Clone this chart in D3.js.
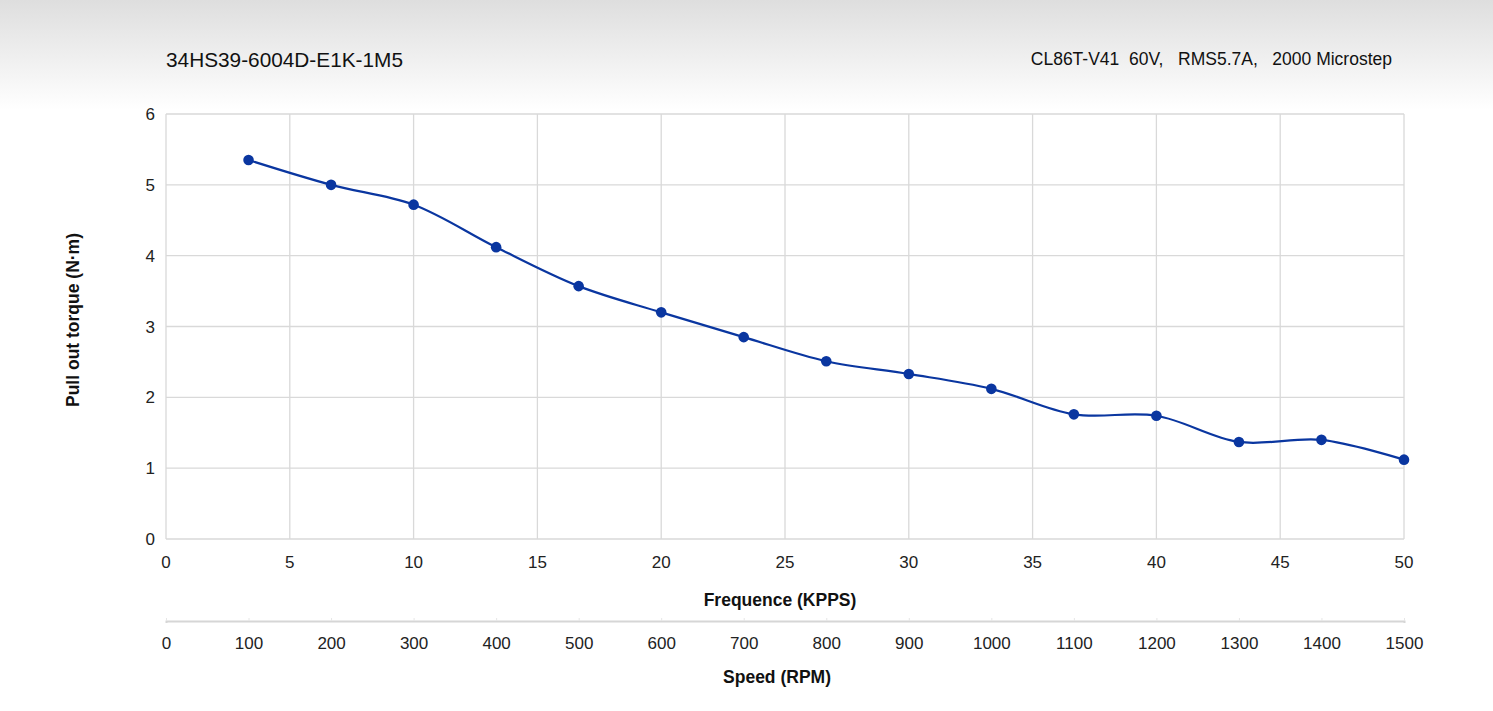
<!DOCTYPE html>
<html>
<head>
<meta charset="utf-8">
<script src="https://cdn.jsdelivr.net/npm/d3@7"></script>
<style>
  html, body { margin: 0; padding: 0; }
  body { width: 1493px; height: 711px; overflow: hidden; background: #fff; font-family: "Liberation Sans", Arial, sans-serif; }
  text { white-space: pre; }
</style>
</head>
<body>
<div id="chart"></div>
<script>
// Data
var speedRpm = [100, 200, 300, 400, 500, 600, 700, 800, 900, 1000, 1100, 1200, 1300, 1400, 1500];
var torque = [5.35, 5.00, 4.72, 4.12, 3.57, 3.20, 2.85, 2.51, 2.33, 2.12, 1.76, 1.74, 1.37, 1.40, 1.12];
var freqTicks = [0, 5, 10, 15, 20, 25, 30, 35, 40, 45, 50];
var speedTicks = [0, 100, 200, 300, 400, 500, 600, 700, 800, 900, 1000, 1100, 1200, 1300, 1400, 1500];
var torqueTicks = [0, 1, 2, 3, 4, 5, 6];

var svgWidth = 1493, svgHeight = 711;
var plotLeft = 166, plotRight = 1404, plotTop = 114, plotBottom = 539;

var svg = d3.select("#chart")
  .append("svg")
  .attr("width", svgWidth)
  .attr("height", svgHeight);

// top background fade
var defs = svg.append("defs");
var grad = defs.append("linearGradient")
  .attr("id", "bg").attr("x1", 0).attr("y1", 0).attr("x2", 0).attr("y2", 1);
grad.append("stop").attr("offset", "0%").attr("stop-color", "#dedede");
grad.append("stop").attr("offset", "100%").attr("stop-color", "#ffffff");
svg.append("rect").attr("x", 0).attr("y", 0).attr("width", svgWidth).attr("height", 110).attr("fill", "url(#bg)");

var xScale = d3.scaleLinear().domain([0, 50]).range([plotLeft, plotRight]);
var speedScale = d3.scaleLinear().domain([0, 1500]).range([plotLeft, plotRight]);
var yScale = d3.scaleLinear().domain([0, 6]).range([plotBottom, plotTop]);

// grid
svg.append("g").selectAll("line")
  .data(torqueTicks).enter().append("line")
  .attr("x1", plotLeft).attr("x2", plotRight)
  .attr("y1", d => yScale(d)).attr("y2", d => yScale(d))
  .attr("stroke", "#d9d9d9").attr("stroke-width", 1.3);

svg.append("g").selectAll("line")
  .data(freqTicks).enter().append("line")
  .attr("x1", d => xScale(d)).attr("x2", d => xScale(d))
  .attr("y1", plotTop).attr("y2", plotBottom)
  .attr("stroke", "#d9d9d9").attr("stroke-width", 1.3);

// y tick labels
svg.append("g").selectAll("text")
  .data(torqueTicks).enter().append("text")
  .attr("x", plotLeft - 11).attr("y", d => yScale(d) + 6)
  .attr("text-anchor", "end")
  .style("font-size", "17px").attr("fill", "#222")
  .text(d => d);

// frequence tick labels
svg.append("g").selectAll("text")
  .data(freqTicks).enter().append("text")
  .attr("x", d => xScale(d)).attr("y", 568)
  .attr("text-anchor", "middle")
  .style("font-size", "17px").attr("fill", "#222")
  .text(d => d);

svg.append("text")
  .attr("x", (plotLeft + plotRight) / 2 - 5).attr("y", 606)
  .attr("text-anchor", "middle")
  .style("font-size", "17.5px").style("font-weight", "bold").attr("fill", "#111")
  .text("Frequence (KPPS)");

// speed axis
var speedAxis = svg.append("g")
  .attr("transform", "translate(0,621)")
  .call(d3.axisBottom(speedScale).tickValues(speedTicks).tickFormat(d3.format("d")).tickSize(2).tickPadding(14));
speedAxis.select(".domain").attr("stroke", "#d6d6d6").attr("stroke-width", 2);
speedAxis.selectAll(".tick line").attr("stroke", "#e6e6e6").attr("transform", "translate(0,-3)").attr("y2", 3);
speedAxis.selectAll(".tick text")
  .style("font-size", "17px").style("font-family", "'Liberation Sans', Arial, sans-serif").attr("fill", "#222");

svg.append("text")
  .attr("x", (plotLeft + plotRight) / 2 - 8).attr("y", 683)
  .attr("text-anchor", "middle")
  .style("font-size", "17.5px").style("font-weight", "bold").attr("fill", "#111")
  .text("Speed (RPM)");

// y axis title
svg.append("text")
  .attr("transform", "translate(79,320) rotate(-90)")
  .attr("text-anchor", "middle")
  .style("font-size", "17.5px").style("font-weight", "bold").attr("fill", "#111")
  .text("Pull out torque (N·m)");

// titles
svg.append("text")
  .attr("x", 166).attr("y", 67)
  .style("font-size", "20.8px").attr("fill", "#111")
  .text("34HS39-6004D-E1K-1M5");

svg.append("text")
  .attr("x", 1392).attr("y", 65)
  .attr("text-anchor", "end")
  .style("font-size", "17.5px").attr("fill", "#111")
  .text("CL86T-V41  60V,   RMS5.7A,   2000 Microstep");

// curve
var pts = speedRpm.map((s, i) => ({ s: s, t: torque[i] }));
var line = d3.line()
  .x(d => speedScale(d.s))
  .y(d => yScale(d.t))
  .curve(d3.curveCatmullRom.alpha(0.5));

svg.append("path")
  .datum(pts)
  .attr("d", line)
  .attr("fill", "none")
  .attr("stroke", "#0a36a0")
  .attr("stroke-width", 2.2);

svg.append("g").selectAll("circle")
  .data(pts).enter().append("circle")
  .attr("cx", d => speedScale(d.s))
  .attr("cy", d => yScale(d.t))
  .attr("r", 5.3)
  .attr("fill", "#0a36a0");
</script>
</body>
</html>
